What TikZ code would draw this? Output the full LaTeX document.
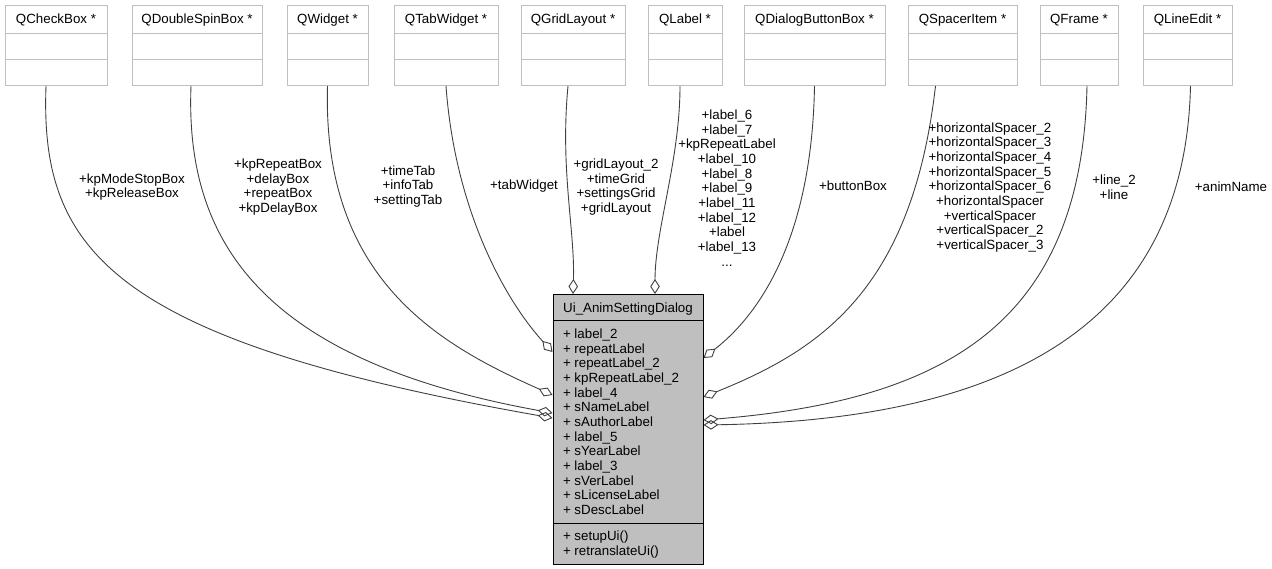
\documentclass[tikz,border=0pt]{standalone}
\usepackage{fontspec}
\setmainfont{Liberation Sans}
\usetikzlibrary{shapes.multipart,arrows.meta}
\definecolor{gA}{HTML}{BFBFBF}
\definecolor{gB}{HTML}{404040}
\newcommand\fnt{\fontsize{13.33}{14.67}\selectfont}
\newcommand\hdr{\rule[-9.6pt]{0pt}{27pt}}
\newcommand\emp{\rule{0pt}{25pt}}
\begin{document}
\begin{tikzpicture}[x=1pt,y=-1pt,
  cls/.style={rectangle split, rectangle split parts=3, draw=gA, line width=1pt, fill=white,
    anchor=north, inner xsep=2pt, inner ysep=0pt, font=\fnt},
  mainc/.style={rectangle split, rectangle split parts=3, draw=black, fill=gA, line width=1pt,
    anchor=north, inner xsep=10pt, inner ysep=0pt, minimum width=150pt, font=\fnt,
    rectangle split part align={center,left,left}},
  edge/.style={draw=gB, line width=0.9pt, -{Diamond[open,length=15pt,width=9.5pt]}},
  lbl/.style={font=\fnt, align=center, inner sep=0pt}]
\useasboundingbox (0,0) rectangle (1272,568);

% top classes
\node[cls, minimum width=102pt] (qcb)  at (56,5)    {\hdr QCheckBox *\nodepart{two}\emp\nodepart{three}\emp};
\node[cls, minimum width=130pt] (qdsb) at (197,5)   {\hdr QDoubleSpinBox *\nodepart{two}\emp\nodepart{three}\emp};
\node[cls, minimum width=81pt]  (qw)   at (327.5,5) {\hdr QWidget *\nodepart{two}\emp\nodepart{three}\emp};
\node[cls, minimum width=104pt] (qtw)  at (446,5)   {\hdr QTabWidget *\nodepart{two}\emp\nodepart{three}\emp};
\node[cls, minimum width=104pt] (qgl)  at (573,5)   {\hdr QGridLayout *\nodepart{two}\emp\nodepart{three}\emp};
\node[cls, minimum width=74pt]  (ql)   at (685,5)   {\hdr QLabel *\nodepart{two}\emp\nodepart{three}\emp};
\node[cls, minimum width=141pt] (qdbb) at (814.5,5) {\hdr QDialogButtonBox *\nodepart{two}\emp\nodepart{three}\emp};
\node[cls, minimum width=109pt] (qsi)  at (962.5,5) {\hdr QSpacerItem *\nodepart{two}\emp\nodepart{three}\emp};
\node[cls, minimum width=78pt]  (qf)   at (1079,5)  {\hdr QFrame *\nodepart{two}\emp\nodepart{three}\emp};
\node[cls, minimum width=89pt]  (qle)  at (1187.5,5){\hdr QLineEdit *\nodepart{two}\emp\nodepart{three}\emp};

% main class
\node[mainc] (main) at (628,294) {\rule[-7.6pt]{0pt}{25pt}Ui\_AnimSettingDialog
\nodepart{two}\rule[-184.6pt]{0pt}{202pt}\begin{tabular}[t]{@{}l@{}}
+ label\_2\\
+ repeatLabel\\
+ repeatLabel\_2\\
+ kpRepeatLabel\_2\\
+ label\_4\\
+ sNameLabel\\
+ sAuthorLabel\\
+ label\_5\\
+ sYearLabel\\
+ label\_3\\
+ sVerLabel\\
+ sLicenseLabel\\
+ sDescLabel
\end{tabular}
\nodepart{three}\rule[-23.6pt]{0pt}{40pt}\begin{tabular}[t]{@{}l@{}}
+ setupUi()\\
+ retranslateUi()
\end{tabular}};

% connectors
\draw[edge] ([xshift=-10pt]qcb.south) .. controls (40,250) and (110,340) .. ([yshift=-124pt]main.north west);
\draw[edge] ([xshift=-6pt]qdsb.south) .. controls (185,240) and (260,360) .. ([yshift=-119pt]main.north west);
\draw[edge] (qw.south) .. controls (322,280) and (440,345) .. ([yshift=-101pt]main.north west);
\draw[edge] (qtw.south) .. controls (455,210) and (505,300) .. ([yshift=-58pt]main.north west);
\draw[edge] ([xshift=-5pt]qgl.south) .. controls (560,170) and (575,230) .. ([xshift=-55pt]main.north);
\draw[edge] ([xshift=-5pt]ql.south) .. controls (680,160) and (655,230) .. ([xshift=27pt]main.north);
\draw[edge] (qdbb.south) .. controls (812,230) and (765,310) .. ([yshift=-64pt]main.north east);
\draw[edge] ([xshift=-27pt]qsi.south) .. controls (912,290) and (820,350) .. ([yshift=-103pt]main.north east);
\draw[edge] ([xshift=8pt]qf.south) .. controls (1082,320) and (950,400) .. ([yshift=-126pt]main.north east);
\draw[edge] ([xshift=3pt]qle.south) .. controls (1185,330) and (1000,420) .. ([yshift=-131pt]main.north east);

% labels
\node[lbl] (l1) at (132,187) {+kpModeStopBox\\+kpReleaseBox};
\node[lbl] (l2) at (278,187) {+kpRepeatBox\\+delayBox\\+repeatBox\\+kpDelayBox};
\node[lbl] (l3) at (408,186.5) {+timeTab\\+infoTab\\+settingTab};
\node[lbl] (l4) at (524,186) {+tabWidget};
\node[lbl] (l5) at (616,187) {+gridLayout\_2\\+timeGrid\\+settingsGrid\\+gridLayout};
\node[lbl] (l6) at (727,188) {+label\_6\\+label\_7\\+kpRepeatLabel\\+label\_10\\+label\_8\\+label\_9\\+label\_11\\+label\_12\\+label\\+label\_13\\...};
\node[lbl] (l7) at (853,186) {+buttonBox};
\node[lbl] (l8) at (990,187.5) {+horizontalSpacer\_2\\+horizontalSpacer\_3\\+horizontalSpacer\_4\\+horizontalSpacer\_5\\+horizontalSpacer\_6\\+horizontalSpacer\\+verticalSpacer\\+verticalSpacer\_2\\+verticalSpacer\_3};
\node[lbl] (l9) at (1114,187) {+line\_2\\+line};
\node[lbl] (l10) at (1231,187) {+animName};
\end{tikzpicture}
\end{document}
